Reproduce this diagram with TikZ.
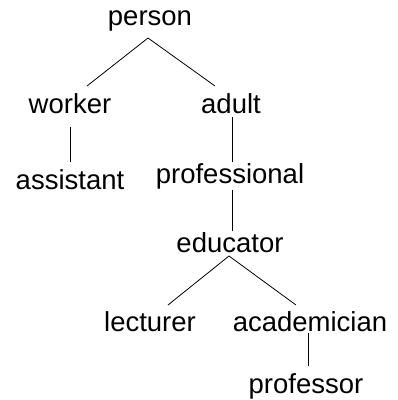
\documentclass[tikz,border=0pt]{standalone}
\usepackage{fontspec}
\setmainfont{Liberation Sans}
\begin{document}
\begin{tikzpicture}[x=1pt,y=-1pt,
  lbl/.style={anchor=base,inner sep=0pt,font=\fontsize{27.5}{30}\selectfont},
  edge/.style={draw=black,line width=0.8pt}]
\useasboundingbox (0,0) rectangle (398,400);
\node[lbl] (person) at (150,25) {person};
\node[lbl] (worker) at (70,113) {worker};
\node[lbl] (adult) at (231,113) {adult};
\node[lbl] (assistant) at (70,189) {assistant};
\node[lbl] (professional) at (230,183) {professional};
\node[lbl] (educator) at (230,252) {educator};
\node[lbl] (lecturer) at (150,331) {lecturer};
\node[lbl] (academician) at (310,331) {academician};
\node[lbl] (professor) at (306,393) {professor};
% connector end points
\coordinate (person-b) at (148,38);
\coordinate (worker-t) at (87,86);
\coordinate (adult-t) at (215,86);
\coordinate (worker-b) at (70,127);
\coordinate (assistant-t) at (70,162);
\coordinate (adult-b) at (232,117);
\coordinate (professional-t) at (232,162);
\coordinate (professional-b) at (232,190);
\coordinate (educator-t) at (232,231);
\coordinate (educator-b) at (229,256);
\coordinate (lecturer-t) at (168,305);
\coordinate (academician-t) at (296,305);
\coordinate (academician-b) at (308,333);
\coordinate (professor-t) at (308,366);
\draw[edge] (person-b) -- (worker-t);
\draw[edge] (person-b) -- (adult-t);
\draw[edge] (worker-b) -- (assistant-t);
\draw[edge] (adult-b) -- (professional-t);
\draw[edge] (professional-b) -- (educator-t);
\draw[edge] (educator-b) -- (lecturer-t);
\draw[edge] (educator-b) -- (academician-t);
\draw[edge] (academician-b) -- (professor-t);
\end{tikzpicture}
\end{document}
